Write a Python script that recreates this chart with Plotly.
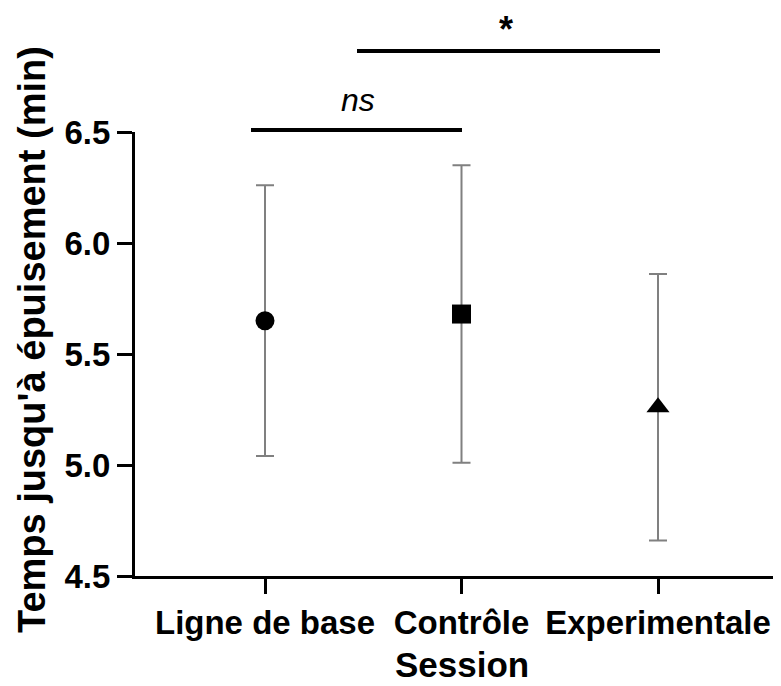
import plotly.graph_objects as go

categories = ["Ligne de base", "Contrôle", "Experimentale"]
means = [5.65, 5.68, 5.26]
errors = [0.61, 0.67, 0.60]
symbols = ["circle", "square", "triangle-up"]
marker_sizes = [19, 19, 20]
y_ticks = [4.5, 5.0, 5.5, 6.0, 6.5]
y_tick_labels = ["4.5", "5.0", "5.5", "6.0", "6.5"]

x_pos = list(range(len(categories)))
FONT = "Liberation Sans, Arial, sans-serif"

# page body has an 8px margin; margins compensate so the plot lands where the reference has it
L, R, T, B = 127, 0, 124, 118
W, H = 781, 686
PW = W - L - R
PH = H - T - B
CAT_PITCH = 196.5      # pixels between categories
FIRST_CAT_PAGE_X = 265


def py(page_y):
    """page pixel y -> paper fraction"""
    return (H - B - (page_y - 8)) / PH


def px(page_x):
    return ((page_x - 8) - L) / PW


def dx(page_x):
    """page pixel x -> x data coordinate"""
    return (page_x - FIRST_CAT_PAGE_X) / CAT_PITCH


x_left = dx(8 + L)
x_right = dx(8 + L + PW)

fig = go.Figure()
# error bars underneath
fig.add_trace(go.Scatter(
    x=x_pos, y=means, mode="markers",
    marker=dict(size=1, color="rgba(0,0,0,0)"),
    error_y=dict(type="data", array=errors, visible=True, color="#808080",
                 thickness=2, width=9),
    showlegend=False, hoverinfo="skip", cliponaxis=False,
))
# markers on top
fig.add_trace(go.Scatter(
    x=x_pos, y=means, mode="markers",
    marker=dict(symbol=symbols, size=marker_sizes, color="black", opacity=1,
                line=dict(width=0)),
    showlegend=False, cliponaxis=False,
))

fig.update_layout(
    width=W, height=H,
    margin=dict(l=L, r=R, t=T, b=B),
    plot_bgcolor="white", paper_bgcolor="white",
    font=dict(family=FONT, color="black"),
    xaxis=dict(
        range=[x_left, x_right], tickmode="array", tickvals=x_pos, ticktext=categories,
        showline=True, linecolor="black", linewidth=3,
        ticks="outside", ticklen=15, tickwidth=3, tickcolor="black",
        tickfont=dict(family=FONT, size=33, color="black", weight="bold"),
        showgrid=False, zeroline=False,
    ),
    yaxis=dict(
        range=[4.5, 6.5], tickmode="array", tickvals=y_ticks, ticktext=y_tick_labels,
        showline=True, linecolor="black", linewidth=3,
        ticks="outside", ticklen=15, tickwidth=3, tickcolor="black",
        tickfont=dict(family=FONT, size=33, color="black", weight="bold"),
        showgrid=False, zeroline=False,
    ),
)

# axis titles as annotations
fig.add_annotation(
    text="<b>Temps jusqu'à épuisement (min)</b>", textangle=-90,
    xref="paper", yref="paper", x=px(32), y=py(340),
    xanchor="center", yanchor="middle", showarrow=False,
    font=dict(family=FONT, size=38, color="black"),
)
fig.add_annotation(
    text="<b>Session</b>",
    xref="paper", yref="paper", x=px(462), y=py(664),
    xanchor="center", yanchor="middle", showarrow=False,
    font=dict(family=FONT, size=35, color="black"),
)

# significance bars
sig_lines = [(dx(251), dx(462), py(130)), (dx(357), dx(660), py(51))]
for x0, x1, yy in sig_lines:
    fig.add_shape(type="line", xref="x", yref="paper", x0=x0, x1=x1, y0=yy, y1=yy,
                  line=dict(color="black", width=4))

fig.add_annotation(text="<i>ns</i>", xref="x", yref="paper", x=dx(358), y=py(100),
                   showarrow=False, xanchor="center", yanchor="middle",
                   font=dict(family=FONT, size=32, color="black"))
fig.add_annotation(text="<b>*</b>", xref="x", yref="paper", x=dx(506), y=py(30),
                   showarrow=False, xanchor="center", yanchor="middle",
                   font=dict(family=FONT, size=36, color="black"))

fig.write_html(
    "out.html",
    post_script="document.documentElement.style.overflow='hidden';"
                "document.body.style.overflow='hidden';",
)
